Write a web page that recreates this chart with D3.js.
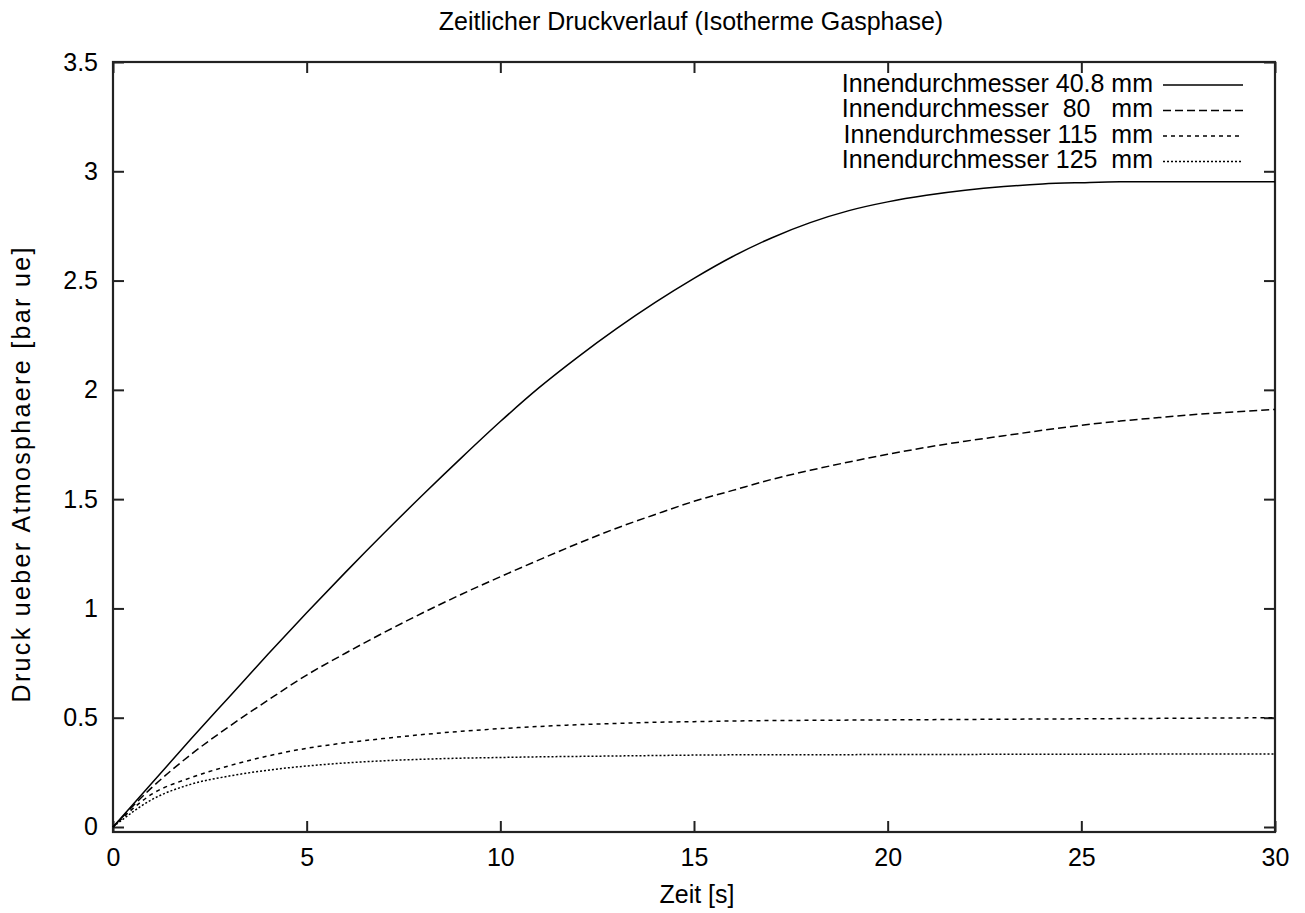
<!DOCTYPE html>
<html>
<head>
    <meta charset="utf-8" />
    <title>Zeitlicher Druckverlauf</title>
    <script src="https://cdn.jsdelivr.net/npm/d3@7"></script>
    <style>
        body { margin: 0; background: #fff; overflow: hidden; }
        text { font-family: "Liberation Sans", Arial, Helvetica, sans-serif; fill: #000; }
    </style>
</head>
<body>
    <div id="chart"></div>
    <script>
        // Zeitachse [s]
        var zeit = [0, 1, 2, 3, 4, 5, 6, 7, 8, 9, 10, 11, 12, 13, 14, 15, 16, 17, 18, 19, 20, 21, 22, 23, 24, 25, 26, 27, 28, 29, 30];
        // Druck [bar ue] je Innendurchmesser
        var druck408 = [0, 0.20, 0.40, 0.595, 0.79, 0.98, 1.165, 1.345, 1.52, 1.69, 1.855, 2.01, 2.15, 2.28, 2.40, 2.51, 2.61, 2.695, 2.765, 2.82, 2.86, 2.89, 2.913, 2.93, 2.942, 2.948, 2.952, 2.952, 2.952, 2.952, 2.952];
        var druck80 = [0, 0.18, 0.33, 0.46, 0.58, 0.695, 0.795, 0.89, 0.98, 1.065, 1.145, 1.222, 1.297, 1.367, 1.43, 1.49, 1.54, 1.59, 1.632, 1.67, 1.705, 1.737, 1.765, 1.79, 1.815, 1.838, 1.857, 1.873, 1.888, 1.90, 1.91];
        var druck115 = [0, 0.15, 0.225, 0.28, 0.325, 0.36, 0.385, 0.405, 0.423, 0.438, 0.45, 0.46, 0.468, 0.474, 0.479, 0.482, 0.485, 0.487, 0.488, 0.489, 0.49, 0.491, 0.492, 0.493, 0.494, 0.495, 0.496, 0.497, 0.498, 0.499, 0.50];
        var druck125 = [0, 0.125, 0.195, 0.233, 0.26, 0.279, 0.293, 0.303, 0.31, 0.315, 0.318, 0.321, 0.323, 0.325, 0.327, 0.329, 0.33, 0.33, 0.331, 0.331, 0.332, 0.332, 0.332, 0.333, 0.333, 0.333, 0.333, 0.334, 0.334, 0.334, 0.334];

        var legendeTexte = ["Innendurchmesser 40.8 mm", "Innendurchmesser  80   mm", "Innendurchmesser 115  mm", "Innendurchmesser 125  mm"];
        var xTicks = [0, 5, 10, 15, 20, 25, 30];
        var yTicks = [0, 0.5, 1, 1.5, 2, 2.5, 3, 3.5];

        var width = 1305, height = 913;
        var links = 113, rechts = 1275, oben = 62, unten = 832;

        var svg = d3.select("#chart").append("svg")
            .attr("width", width)
            .attr("height", height);

        var x = d3.scaleLinear().domain([0, 30]).range([links, rechts]);
        // y=0 sitzt etwas oberhalb des Rahmens
        var y = d3.scaleLinear().domain([-0.0229, 3.5]).range([unten, oben]);

        var reihen = [
            { werte: druck408, dash: null },
            { werte: druck80, dash: "8,4" },
            { werte: druck115, dash: "4,4" },
            { werte: druck125, dash: "2,2" }
        ];

        // Achsen (Ticks nach innen, oben/rechts gespiegelt)
        var tl = 11;
        svg.append("g")
            .attr("transform", "translate(0," + unten + ")")
            .call(d3.axisBottom(x).tickValues(xTicks).tickSize(-tl).tickPadding(16).tickFormat(d3.format("d")))
            .call(function (g) { g.select(".domain").remove(); });
        svg.append("g")
            .attr("transform", "translate(0," + oben + ")")
            .call(d3.axisTop(x).tickValues(xTicks).tickSize(-tl).tickFormat(""))
            .call(function (g) { g.select(".domain").remove(); });
        svg.append("g")
            .attr("transform", "translate(" + links + ",0)")
            .call(d3.axisLeft(y).tickValues(yTicks).tickSize(-tl).tickPadding(15).tickFormat(d3.format("")))
            .call(function (g) { g.select(".domain").remove(); });
        svg.append("g")
            .attr("transform", "translate(" + rechts + ",0)")
            .call(d3.axisRight(y).tickValues(yTicks).tickSize(-tl).tickFormat(""))
            .call(function (g) { g.select(".domain").remove(); });

        svg.selectAll(".tick line").attr("stroke", "#222").attr("stroke-width", 2);
        svg.selectAll(".tick text").attr("font-size", 25).attr("fill", "#000");

        // Rahmen
        svg.append("rect")
            .attr("x", links).attr("y", oben)
            .attr("width", rechts - links).attr("height", unten - oben)
            .attr("fill", "none").attr("stroke", "#222").attr("stroke-width", 2.2);

        // Kurven
        var linie = d3.line()
            .x(function (d) { return x(d[0]); })
            .y(function (d) { return y(d[1]); })
            .curve(d3.curveMonotoneX);

        reihen.forEach(function (r) {
            var pts = zeit.map(function (t, i) { return [t, r.werte[i]]; });
            svg.append("path")
                .datum(pts)
                .attr("d", linie)
                .attr("fill", "none")
                .attr("stroke", "#000")
                .attr("stroke-width", 1.5)
                .attr("stroke-dasharray", r.dash);
        });

        // Legende
        var lg = svg.append("g");
        reihen.forEach(function (r, i) {
            var ly = 85 + i * 25.5;
            lg.append("text")
                .attr("x", 1153).attr("y", ly)
                .attr("text-anchor", "end")
                .attr("dominant-baseline", "middle")
                .attr("font-size", 25)
                .style("white-space", "pre")
                .text(legendeTexte[i]);
            lg.append("line")
                .attr("x1", 1163).attr("x2", 1243)
                .attr("y1", ly).attr("y2", ly)
                .attr("stroke", "#000").attr("stroke-width", 1.5)
                .attr("stroke-dasharray", r.dash);
        });

        // Titel und Achsenbeschriftung
        svg.append("text")
            .attr("x", 691).attr("y", 23)
            .attr("text-anchor", "middle")
            .attr("dominant-baseline", "middle")
            .attr("font-size", 25)
            .text("Zeitlicher Druckverlauf (Isotherme Gasphase)");
        svg.append("text")
            .attr("x", 697).attr("y", 896)
            .attr("text-anchor", "middle")
            .attr("dominant-baseline", "middle")
            .attr("font-size", 25)
            .text("Zeit [s]");
        svg.append("text")
            .attr("transform", "translate(23," + ((oben + unten) / 2 + 28) + ") rotate(-90)")
            .attr("text-anchor", "middle")
            .attr("dominant-baseline", "middle")
            .attr("font-size", 25)
            .attr("textLength", 455)
            .attr("lengthAdjust", "spacing")
            .text("Druck ueber Atmosphaere [bar ue]");
    </script>
</body>
</html>
